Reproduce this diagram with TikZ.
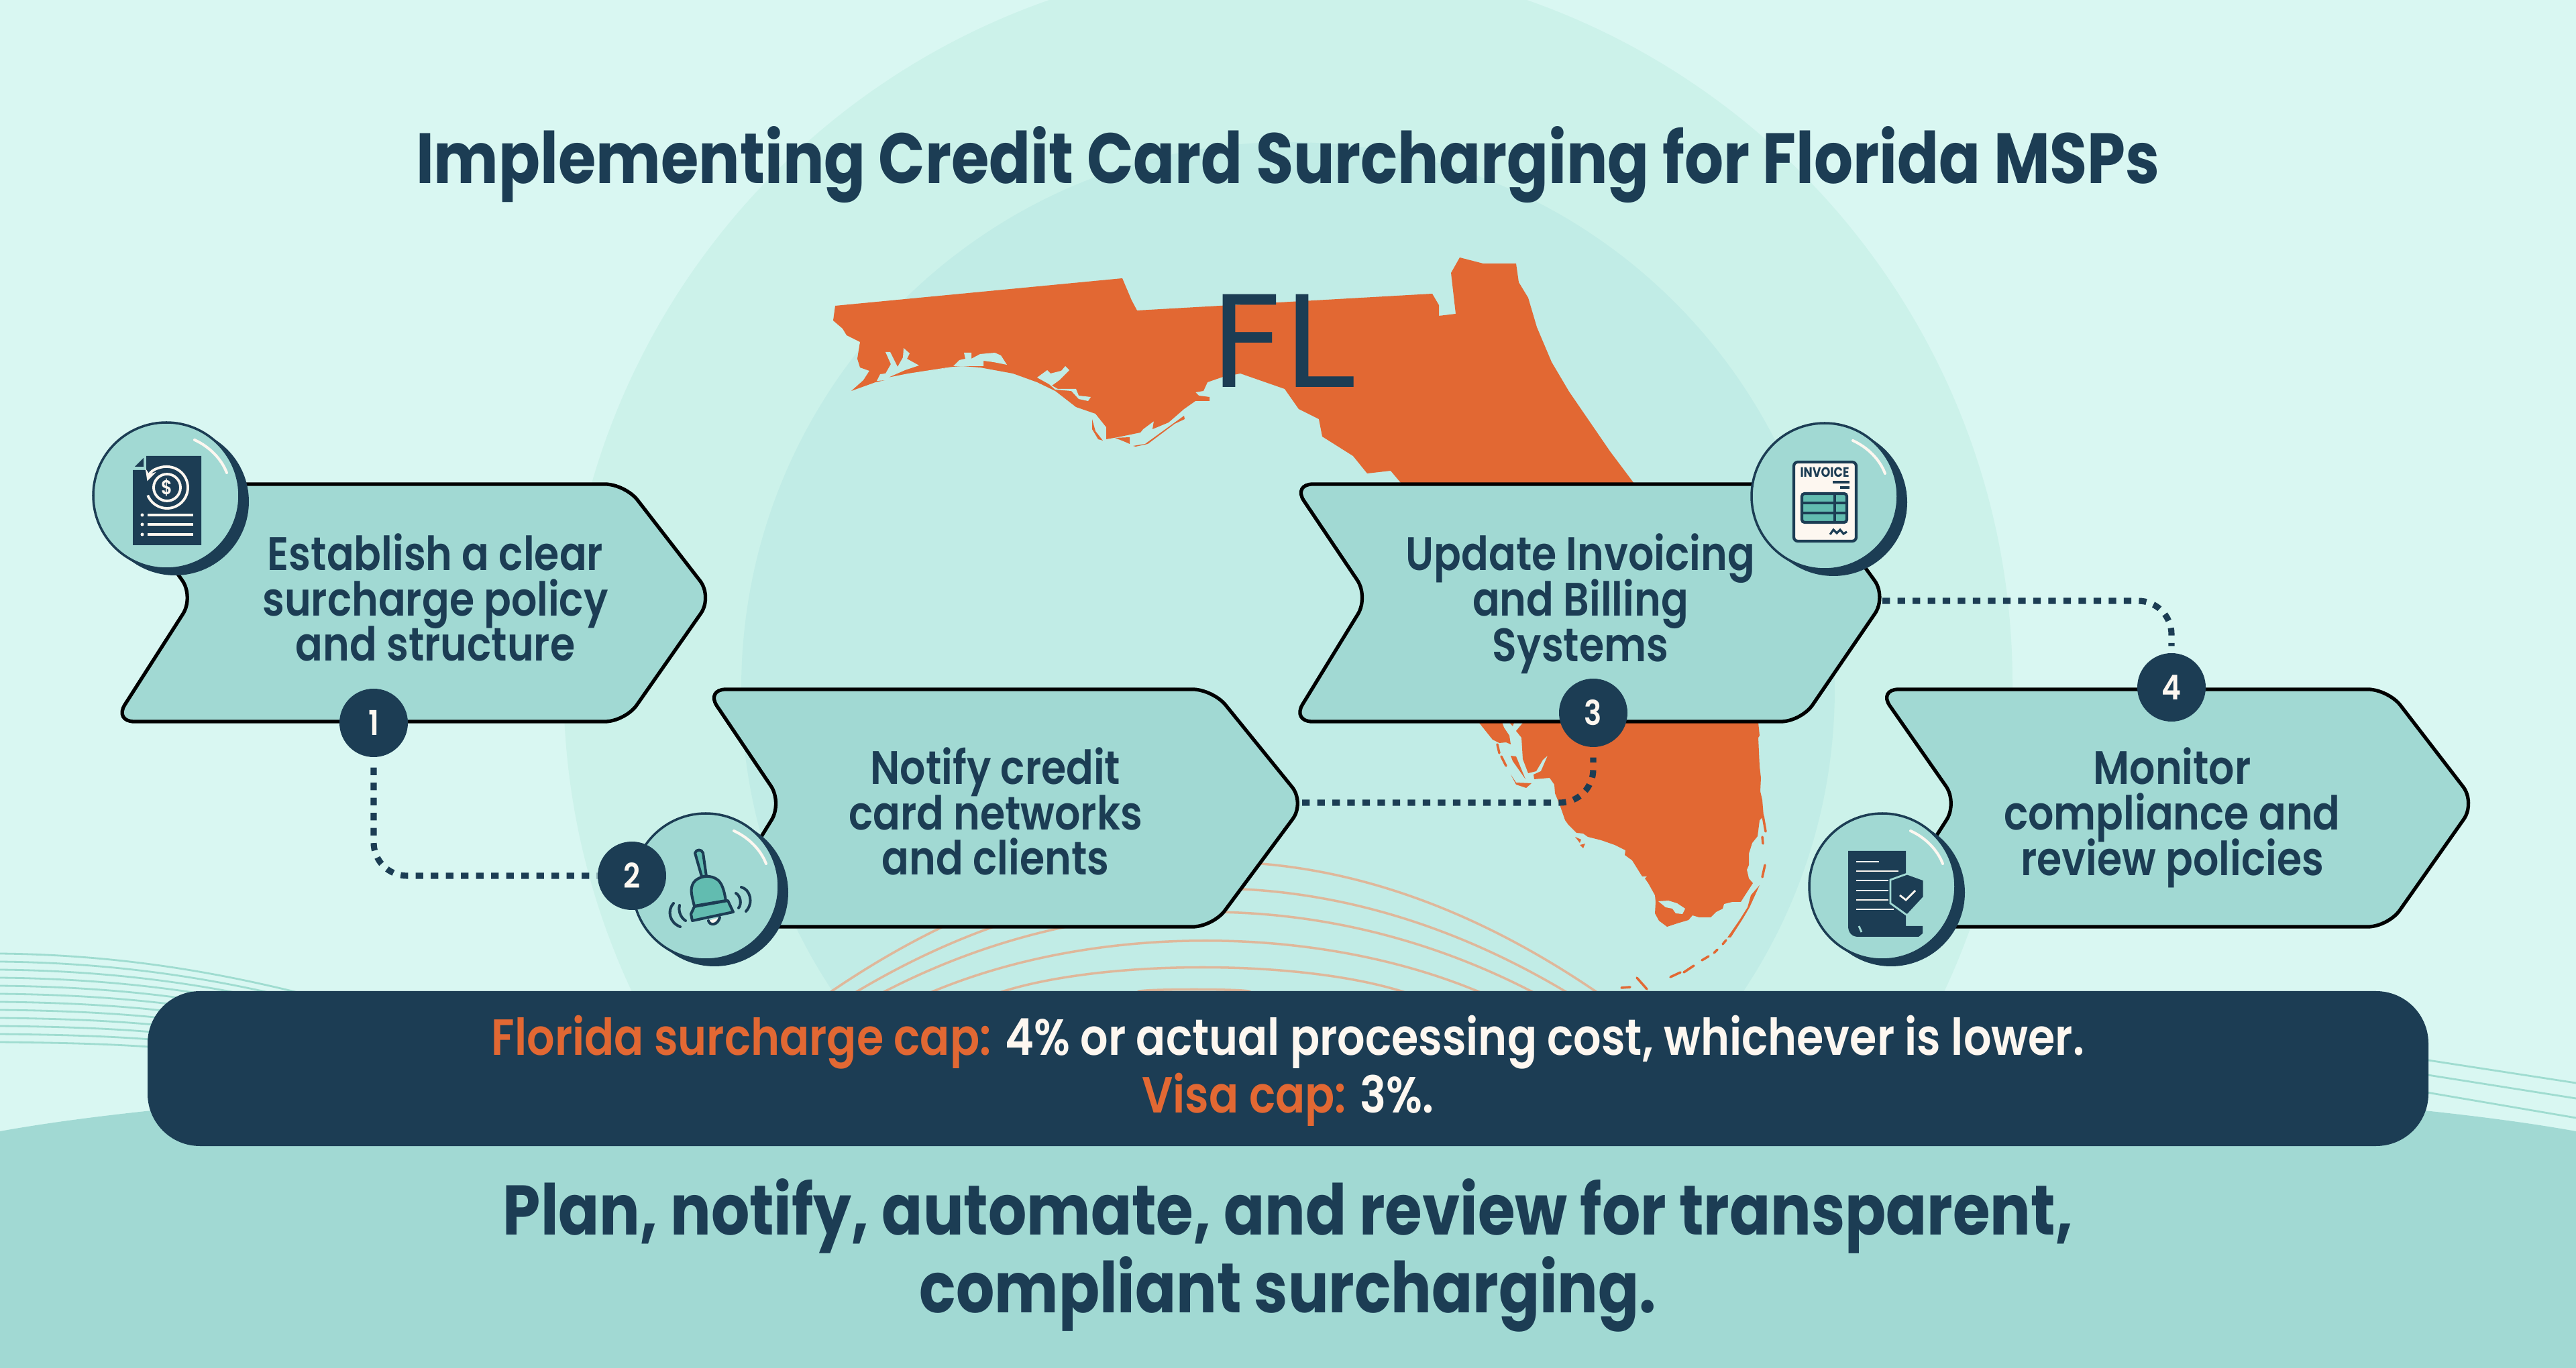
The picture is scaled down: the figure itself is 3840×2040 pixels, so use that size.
\documentclass[tikz,border=0pt]{standalone}
\usepackage{fontspec}
\newfontfamily\titlefont[FakeStretch=0.86]{Poppins Bold}
\newfontfamily\headfont[FakeStretch=0.86]{Poppins SemiBold}
\newfontfamily\mapfont{DejaVu Sans}
\setmainfont{Poppins Medium}
\definecolor{base}{HTML}{D9F7F2}
\definecolor{ringa}{HTML}{CCF2EA}
\definecolor{ringb}{HTML}{C1ECE6}
\definecolor{mint}{HTML}{A1D9D3}
\definecolor{navy}{HTML}{1C3D54}
\definecolor{rust}{HTML}{E26833}
\definecolor{sand}{HTML}{DFB79A}
\definecolor{wave}{HTML}{9FDCD0}
\definecolor{teal}{HTML}{62BCB0}
\definecolor{cream}{HTML}{FDF7F0}
\newcommand{\tightlines}{\lineskiplimit=-20pt\relax}
% one coin with its shadow and its glint
\newcommand{\iconball}[2]{
    \fill[navy](#1+13,#2+9)circle[radius=110];
    \draw[navy,line width=1pt,fill=mint](#1,#2)circle[radius=109];
    \draw[cream,line width=1.15pt,line cap=round](#1+42,#2-83)..controls(#1+64,#2-73)and(#1+82,#2-55)..(#1+90,#2-34);
}
\tikzset{
    stepbox/.style={draw=black,fill=mint,line width=1.5pt,rounded corners=3mm},
    steptext/.style={font=\headfont\fontsize{19.9}{19.3}\selectfont\tightlines,text=navy,align=center},
    badge/.style={circle,fill=navy,text=cream,minimum size=102*0.1mm,inner sep=0pt,font=\headfont\fontsize{14.5}{15}\selectfont},
    dotlink/.style={navy,line width=2.6pt,dash pattern=on 3.2pt off 3.2pt,rounded corners=5mm},
    keyline/.style={rust,line width=1pt,line cap=round},
    belline/.style={navy,line width=1.15pt,line cap=round},
}
\begin{document}
\begin{tikzpicture}[x=0.1mm,y=-0.1mm]
    \useasboundingbox(0,0)rectangle(3840,2040);
    \fill[base](0,0)rectangle(3840,2040);
    \fill[ringa](1920,1020)circle[radius=1080];
    \fill[ringb](1920,1027)circle[radius=815];

    % thin lines on the sides
    \foreach \i in {0,...,11}
        \draw[wave,line width=0.8pt](0,1422+12*\i)..controls(180,1424+12*\i)and(340,1450+10*\i)..(520,1500+10*\i);
    \draw[wave,line width=0.8pt](3600,1578)--(3840,1615);
    \draw[wave,line width=0.8pt](3600,1600)--(3840,1638);
    \draw[wave,line width=0.8pt](3600,1626)--(3840,1667);

    % arcs under the bar
    \foreach \xl/\xr/\yc in {1237/2381/1220,1275/2336/1273,1316/2286/1320,1387/2207/1377,1490/2095/1430,1700/1860/1474}
        \draw[sand,line width=1pt](\xl,1480)..controls(\xl+0.42*\xr-0.42*\xl-100,\yc)and(\xr-0.42*\xr+0.42*\xl+100,\yc)..(\xr,1480);

    \fill[mint](0,1687)..controls(700,1560)and(3140,1560)..(3840,1687)--(3840,2040)--(0,2040)--cycle;

    % Florida
    \fill[rust](1245,456)--(1673,415)--(1687,448)--(1695,463)--(2135,438)--(2145,455)--(2145,471)--(2170,468)--(2163,407)--(2176,384)--(2211,393)--(2260,393)--(2264,421)--(2278,444)--(2291,488)--(2313,540)--(2339,584)--(2400,673)--(2436,721)
        --(2621,1077)--(2623,1097)--(2621,1100)--(2623,1143)--(2625,1160)--(2624,1180)--(2627,1193)--(2629,1217)--(2623,1223)--(2620,1247)--(2612,1257)--(2607,1273)--(2607,1290)--(2604,1297)--(2607,1310)--(2613,1317)--(2600,1337)--(2595,1345)--(2582,1345)--(2570,1348)--(2568,1355)--(2558,1360)--(2550,1368)--(2533,1368)--(2523,1365)--(2517,1372)--(2500,1377)--(2485,1382)--(2473,1373)--(2467,1362)--(2468,1345)--(2467,1335)
        --(2457,1317)--(2452,1310)--(2455,1307)--(2448,1307)--(2433,1283)--(2422,1275)--(2423,1268)--(2407,1260)--(2387,1253)--(2367,1248)--(2360,1243)--(2350,1242)--(2338,1230)--(2333,1223)--(2325,1200)--(2318,1183)--(2317,1170)--(2310,1160)--(2287,1162)--(2286,1155)--(2297,1150)--(2310,1120)--(2318,1117)--(2300,1133)--(2290,1150)--(2278,1153)--(2270,1132)--(2268,1100)--(2260,1090)--(2270,1078)--(2270,1060)
        --(2089,721)--(2073,702)--(2038,706)--(2017,680)--(1971,651)--(1966,625)--(1936,610)--(1915,580)--(1849,557)--(1823,562)--(1800,570)--(1794,583)--(1782,585)--(1787,590)--(1803,592)--(1803,598)--(1782,598)--(1765,610)--(1742,630)--(1718,640)--(1720,628)--(1704,640)--(1700,645)--(1666,652)--(1649,655)--(1649,637)--(1633,617)--(1604,607)--(1573,583)--(1546,570)--(1510,557)--(1461,548)--(1434,546)--(1420,547)--(1376,555)--(1305,570)--(1269,583)--(1287,567)--(1296,553)--(1282,548)--(1278,535)--(1282,510)--(1262,500)--(1256,490)--(1242,478)--cycle;
    % bays cut in the land
    \fill[ringb](1307,568)--(1312,558)--(1320,557)--(1328,543)--(1320,525)--(1327,525)--(1338,547)--(1346,533)--(1347,519)--(1356,527)--(1352,535)--(1370,545)--(1349,552)--(1324,563)--(1354,557)--(1419,547)--(1323,567)--cycle;
    \fill[ringb](1421,546)--(1430,537)--(1439,535)--(1437,526)--(1448,526)--(1448,535)--(1461,528)--(1483,526)--(1492,530)--(1501,544)--(1481,540)--(1466,538)--(1466,546)--(1434,546)--cycle;
    \fill[ringb](1546,563)--(1561,552)--(1566,557)--(1582,553)--(1588,546)--(1594,552)--(1579,567)--(1568,575)--(1577,580)--(1604,580)--(1608,590)--(1626,592)--(1622,598)--(1608,595)--(1597,583)--(1573,581)--(1564,573)--cycle;
    \fill[ringb](2472,1344)--(2487,1343)--(2500,1347)--(2512,1355)--(2508,1363)--(2498,1362)--(2493,1355)--(2483,1353)--cycle;
    % islands and keys
    \fill[rust](1628,625)--(1633,643)--(1644,657)--(1637,655)--(1628,640)--cycle;
    \fill[rust](1662,653)--(1684,652)--(1684,662)--(1675,658)--cycle;
    \fill[rust](1689,665)--(1707,662)--(1747,633)--(1765,620)--(1766,625)--(1751,632)--(1711,662)--(1693,666)--cycle;
    \fill[rust](2205,1060)--(2205,1078)--(2225,1103)--(2235,1108)--(2245,1107)--(2252,1110)--(2250,1097)--(2242,1085)--(2233,1060)--cycle;
    \fill[rust](2243,1070)--(2255,1083)--(2260,1070)--cycle;
    \fill[rust](2252,1127)--(2260,1128)--(2272,1157)--(2274,1162)--(2267,1152)--(2255,1135)--cycle;
    \fill[rust](2252,1155)--(2260,1167)--(2283,1168)--(2275,1175)--(2260,1170)--cycle;
    \fill[rust](2348,1248)--(2357,1252)--(2355,1257)--cycle;
    \fill[rust](2355,1260)--(2363,1258)--(2360,1265)--cycle;
    \fill[rust](2610,1335)--(2623,1320)--(2608,1353)--(2598,1370)--(2580,1398)--(2575,1398)--(2593,1372)--(2605,1353)--cycle;
    \foreach \ax/\ay/\bx/\by in {2568/1408/2573/1402,2555/1421/2560/1416,2537/1432/2547/1426,2510/1450/2525/1440,2490/1457/2505/1450,2440/1458/2455/1475,2417/1473/2430/1472,2628/1217/2632/1240,2627/1248/2628/1258,2631/1290/2627/1308,2232/1110/2235/1123,2238/1128/2245/1142}
        \draw[keyline](\ax,\ay)--(\bx,\by);
    \node[font=\mapfont\fontsize{54}{54}\selectfont,text=navy](flname)at(1912,508){FL};

    % step boxes
    \draw[stepbox](170,722)--(932,722)--(1062,890)--(932,1076)--(170,1076)--(289,890)--cycle;
    \draw[stepbox](1052,1028)--(1808,1028)--(1945,1197)--(1808,1382)--(1052,1382)--(1166,1197)--cycle;
    \draw[stepbox](1927,722)--(2690,722)--(2812,890)--(2685,1076)--(1926,1076)--(2040,890)--cycle;
    \draw[stepbox](2800,1028)--(3560,1028)--(3690,1197)--(3560,1382)--(2800,1382)--(2918,1197)--cycle;
    \node[steptext](boxa)at(649,891){Establish a clear\\surcharge policy\\and structure};
    \node[steptext](boxb)at(1484,1210){Notify credit\\card networks\\and clients};
    \node[steptext](boxc)at(2356,900){Update Invoicing\\and Billing\\Systems};
    \node[steptext](boxd)at(3238,1219){Monitor\\compliance and\\review policies};
    \coordinate(tipb)at(1941,1197);
    \coordinate(tipc)at(2806,896);

    \iconball{248}{739}
    \iconball{1052}{1322}
    \iconball{2720}{740}
    \iconball{2806}{1322}

    % document with coin
    \fill[navy](218,680)--(300,680)--(300,813)--(198,813)--(198,701)--(218,701)--cycle;
    \fill[navy](201,696)--(214,683)--(214,696)--cycle;
    \begin{scope}[shift={(249,727)},y=0.1mm]
        \draw[cream,line width=1.1pt,<-,>=stealth](162:31)arc(162:-158:31);
        \draw[cream,line width=1.1pt](0,0)circle[radius=20];
    \end{scope}
    \node[text=cream,font=\headfont\fontsize{8.5}{8.5}\selectfont,inner sep=0pt](coinsign)at(249,727){\$};
    \foreach \yy in {768,782,797}{
        \draw[cream,line width=0.9pt](220,\yy)--(288,\yy);
        \fill[cream](212,\yy)circle[radius=2.5];
    }

    % bell
    \draw[belline,fill=teal,line join=round](1036,1272)..controls(1038,1266)and(1046,1266)..(1048,1272)--(1053,1307)--(1046,1307)--cycle;
    \draw[belline,fill=teal,line join=round](1035,1351)..controls(1031,1335)and(1028,1325)..(1034,1316)..controls(1041,1306)and(1060,1303)..(1071,1313)..controls(1078,1320)and(1080,1332)..(1082,1343)--cycle;
    \draw[belline,fill=teal,line join=round](1035,1352)--(1085,1343)--(1093,1360)--(1032,1373)--(1030,1363)--cycle;
    \draw[belline,fill=cream](1056,1373)..controls(1058,1381)and(1070,1380)..(1073,1368);
    \draw[belline](1013,1350)..controls(1011,1358)and(1014,1368)..(1022,1373);
    \draw[belline](1004,1347)..controls(994,1358)and(998,1376)..(1014,1382);
    \draw[belline](1097,1332)..controls(1104,1336)and(1106,1348)..(1101,1354);
    \draw[belline](1105,1323)..controls(1118,1326)and(1124,1346)..(1112,1359);

    % invoice sheet
    \draw[navy,line width=1.2pt,fill=cream,rounded corners=0.6mm](2674,689)rectangle(2767,807);
    \node[text=navy,font=\titlefont\fontsize{5.8}{6}\selectfont,inner sep=0pt](invoicelabel)at(2720,704){INVOICE};
    \draw[navy,line width=1pt](2732,719)--(2757,719)(2743,727)--(2757,727);
    \draw[navy,line width=1.2pt,fill=teal,rounded corners=0.4mm](2686,736)rectangle(2753,779);
    \draw[navy,line width=1pt](2686,750)--(2753,750)(2686,765)--(2753,765)(2735,736)--(2735,779);
    \draw[navy,line width=0.9pt](2728,797)--(2733,790)--(2738,795)--(2743,790)--(2748,796)--(2753,793);

    % policy with shield
    \fill[navy](2755,1269)--(2841,1269)--(2841,1381)--(2866,1381)--(2866,1392)--(2860,1397)--(2770,1397)..controls(2760,1397)and(2755,1390)..(2755,1381)--cycle;
    \draw[mint,line width=0.8pt](2771,1381)--(2775,1390);
    \foreach \yy/\xe in {1285/2801,1299/2830,1313/2815,1328/2815,1342/2815,1356/2823}
        \draw[cream,line width=0.8pt](2767,\yy)--(\xe,\yy);
    \draw[mint,line width=0.8pt,fill=navy](2818,1312)--(2843,1303)--(2868,1312)--(2868,1338)--(2843,1365)--(2818,1347)--cycle;
    \draw[cream,line width=0.8pt](2832,1335)--(2841,1342)--(2855,1328);

    % number badges
    \node[badge](badgea)at(557,1078){1};
    \node[badge](badgeb)at(942,1306){2};
    \node[badge](badgec)at(2375,1063){3};
    \node[badge](badged)at(3237,1025){4};
    \draw[dotlink]([yshift=-1.5mm]badgea.south)|-(badgeb.west);
    \draw[dotlink](tipb)-|([yshift=-1.5mm]badgec.south);
    \draw[dotlink](tipc)-|([yshift=1mm]badged.north);

    % note bar and texts
    \fill[navy,rounded corners=7.8mm](220,1478)rectangle(3620,1709);
    \node[font=\headfont\fontsize{21.55}{24.5}\selectfont,text=cream,align=center](capnote)at(1920,1597){\textcolor{rust}{Florida surcharge cap:} 4\% or actual processing cost, whichever is lower.\\\textcolor{rust}{Visa cap:} 3\%.};
    \node[font=\titlefont\fontsize{30.2}{30}\selectfont,text=navy](titleline)at(1920,246){Implementing Credit Card Surcharging for Florida MSPs};
    \node[font=\titlefont\fontsize{29.8}{33}\selectfont,text=navy,align=center](closing)at(1920,1872){Plan, notify, automate, and review for transparent,\\compliant surcharging.};
\end{tikzpicture}
\end{document}
